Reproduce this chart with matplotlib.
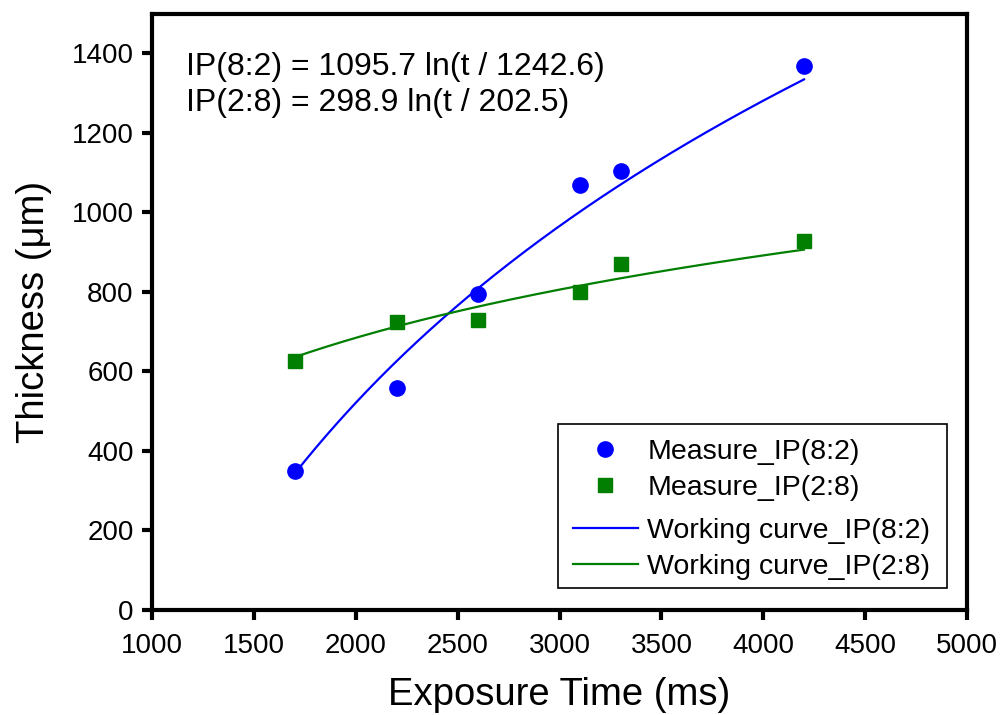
import numpy as np
import matplotlib
matplotlib.use("Agg")
import matplotlib.pyplot as plt
from matplotlib.patches import Rectangle

plt.rcParams["font.family"] = ["Liberation Sans", "DejaVu Sans"]

# measured points
exposure_ms = [1700, 2200, 2600, 3100, 3300, 4200]
thick_82 = [350, 557, 795, 1068, 1103, 1368]
thick_28 = [625, 725, 730, 800, 870, 928]

# working curve coefficients, from the equations printed on the chart
fit_82 = (1095.7, 1242.6)
fit_28 = (298.9, 202.5)
fit_range = (1700, 4200)

x_ticks = [1000, 1500, 2000, 2500, 3000, 3500, 4000, 4500, 5000]
y_ticks = [0, 200, 400, 600, 800, 1000, 1200, 1400]

fig = plt.figure(figsize=(10.02, 7.15), dpi=100)
ax = fig.add_axes([0.152, 0.147, 0.813, 0.834])

t = np.linspace(fit_range[0], fit_range[1], 200)

pts1, = ax.plot(exposure_ms, thick_82, "o", color="#0000ff", markersize=11,
                label="Measure_IP(8:2)", zorder=3)
pts2, = ax.plot(exposure_ms, thick_28, "s", color="#007f00", markersize=9.5,
                label="Measure_IP(2:8)", zorder=3)
ln1, = ax.plot(t, fit_82[0] * np.log(t / fit_82[1]), color="#0000ff", lw=1.6,
               label="Working curve_IP(8:2)")
ln2, = ax.plot(t, fit_28[0] * np.log(t / fit_28[1]), color="#007f00", lw=1.6,
               label="Working curve_IP(2:8)")

ax.text(0.041, 0.935, "IP(8:2) = 1095.7 ln(t / 1242.6)\nIP(2:8) = 298.9 ln(t / 202.5)",
        transform=ax.transAxes, fontsize=23, va="top", ha="left", linespacing=1.25)

ax.set_xlim(1000, 5000)
ax.set_ylim(0, 1500)
ax.set_xticks(x_ticks)
ax.set_yticks(y_ticks)
ax.tick_params(direction="out", length=7.5, width=3, labelsize=20)
ax.tick_params(axis="x", pad=9)
ax.tick_params(axis="y", pad=6)
for s in ax.spines.values():
    s.set_linewidth(3)

ax.set_xlabel("Exposure Time (ms)", fontsize=27.5, labelpad=13)
ax.set_ylabel("Thickness (μm)", fontsize=27.5, labelpad=14)

# legend: two groups with a small gap, inside one frame
common = dict(fontsize=20.5, frameon=False, handlelength=2.25, handletextpad=0.35,
              labelspacing=0.35, borderpad=0, borderaxespad=0)
leg1 = ax.legend(handles=[pts1, pts2], loc="upper left",
                 bbox_to_anchor=(0.517, 0.287), **common)
ax.add_artist(leg1)
ax.legend(handles=[ln1, ln2], loc="upper left",
          bbox_to_anchor=(0.517, 0.154), **common)
ax.add_patch(Rectangle((0.498, 0.037), 0.478, 0.275, transform=ax.transAxes,
                       fill=False, edgecolor="black", lw=1.2, zorder=5))

fig.savefig("out.png", dpi=100)
